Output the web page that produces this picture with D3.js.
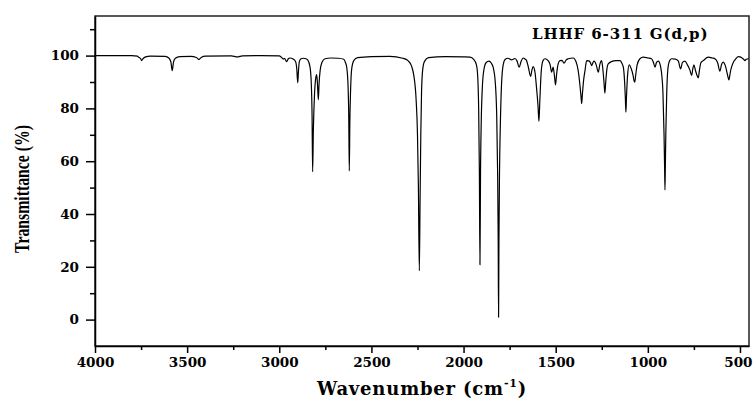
<!DOCTYPE html>
<html>
<head>
<meta charset="utf-8">
<script src="https://cdn.jsdelivr.net/npm/d3@7"></script>
<style>
  body { margin: 0; background: #fff; }
  .tick text { font-family: "DejaVu Serif", serif; font-weight: bold; font-size: 13.5px; fill: #000; }
  .axis path, .axis line { stroke: #000; stroke-width: 1.5px; }
</style>
</head>
<body>
<div id="chart"></div>
<script>
// tick values
const xMajor = [4000, 3500, 3000, 2500, 2000, 1500, 1000, 500];
const xMinor = [3750, 3250, 2750, 2250, 1750, 1250, 750];
const yMajor = [0, 20, 40, 60, 80, 100];
const yMinor = [10, 30, 50, 70, 90, 110];

const title = "LHHF 6-311 G(d,p)";

// [wavenumber (cm-1), transmittance (%)]
const spectrum = [
  [4000, 100], [3800, 100], [3770, 99.8], [3765, 99.5], [3752, 98.8], [3747, 98.1],
  [3740, 98.8], [3725, 99.5], [3700, 99.8],
  [3620, 99.7], [3598, 99.0], [3588, 97.5], [3581, 94.3], [3574, 97.5], [3564, 99.0],
  [3540, 99.6], [3480, 99.7], [3450, 99.3], [3436, 98.5], [3424, 99.3], [3400, 99.8],
  [3260, 99.9], [3228, 99.5], [3200, 99.9], [3100, 100], [3000, 99.9],
  [2990, 99.5], [2978, 98.7], [2972, 99.0], [2960, 97.7], [2950, 98.9], [2942, 99.1],
  [2925, 98.7], [2912, 97.8], [2905, 95], [2900, 89.7], [2896, 94], [2891, 97.8],
  [2882, 98.8], [2870, 99.0], [2855, 98.8], [2845, 98.3], [2833, 95.6], [2826, 89],
  [2822, 77], [2819, 56], [2815, 72], [2809, 85], [2803, 91], [2797, 92.8], [2793, 89.5],
  [2788, 83.3], [2784, 89.5], [2778, 94.5], [2768, 97.5], [2752, 98.8], [2720, 99.1],
  [2680, 99.0], [2650, 98.6], [2640, 97.2], [2634, 95.6], [2627, 89], [2623, 77],
  [2620, 56.3], [2617, 75], [2613, 87], [2607, 95.0], [2595, 98.2], [2575, 99.2],
  [2500, 99.6], [2400, 99.7], [2330, 99.0], [2300, 98.0], [2282, 96.0], [2270, 92.5],
  [2258, 84], [2250, 70], [2245, 50], [2240, 18.5], [2236, 45], [2232, 70], [2228, 86],
  [2222, 94.5], [2212, 97.8], [2190, 99.2], [2100, 99.6], [2000, 99.5], [1965, 99.4],
  [1945, 98.6], [1930, 96.5], [1924, 93], [1918, 80], [1914, 55], [1911, 20.8],
  [1908, 55], [1904, 75], [1898, 88], [1890, 94.5], [1878, 97.3], [1862, 97.9],
  [1850, 97.2], [1839, 95.5], [1828, 90], [1820, 77], [1815, 55], [1812, 30],
  [1810, 0.9], [1808, 30], [1805, 55], [1800, 75], [1794, 89], [1785, 96.5], [1775, 98.5],
  [1759, 99.0], [1740, 98.4], [1721, 98.9], [1710, 98.0], [1698, 95.6], [1688, 97.8],
  [1676, 99.1], [1665, 98.6], [1658, 98.1], [1648, 95.5], [1636, 92.1], [1629, 94.5],
  [1622, 95.8], [1612, 93.5], [1603, 87], [1596, 81], [1591, 75.1], [1586, 83],
  [1581, 91], [1577, 95.2], [1568, 98.2], [1558, 98.8], [1540, 98.0], [1530, 96.5],
  [1522, 93.7], [1514, 95.6], [1507, 92.5], [1501, 88.9], [1495, 93], [1487, 96.8],
  [1477, 98.1], [1466, 98.2], [1455, 97.1], [1443, 98.4], [1432, 98.8], [1405, 99.1],
  [1390, 97.8], [1378, 94.3], [1368, 88.5], [1362, 84], [1359, 81.8], [1355, 85.5],
  [1348, 91], [1341, 94.3], [1332, 98.1], [1320, 98.0], [1312, 97.4], [1305, 96.2],
  [1298, 97.3], [1292, 97.9], [1280, 96.5], [1269, 93.7], [1260, 96.8], [1251, 98.1],
  [1245, 95.5], [1238, 90], [1233, 85.8], [1228, 90.5], [1222, 95], [1215, 96.9],
  [1195, 97.8], [1173, 98.1], [1151, 98.1], [1140, 97], [1133, 95.6], [1126, 90],
  [1122, 84], [1119, 78.6], [1116, 84], [1110, 92.5], [1101, 96.5], [1090, 95],
  [1080, 92.5], [1075, 90.5], [1071, 89.9], [1066, 92.5], [1058, 96.5], [1043, 98.8],
  [1025, 99.4], [1000, 99.1], [980, 98.8], [970, 97.5], [961, 95.6], [953, 97.4],
  [943, 97.9], [932, 96.2], [925, 93.1], [918, 86], [912, 70], [909, 58], [907, 49.1],
  [905, 58], [902, 72], [897, 87], [889, 96.2], [880, 98.3], [871, 98.8], [850, 98.7],
  [835, 98.0], [822, 95.0], [812, 97.4], [799, 97.9], [785, 96.5], [772, 94.6],
  [762, 92.5], [756, 95], [750, 96.5], [742, 94.5], [733, 92.5], [726, 91.6], [720, 94.5],
  [712, 97.3], [699, 98.1], [672, 99.4], [650, 99.1], [636, 98.8], [622, 97.5],
  [609, 94.1], [600, 96.6], [591, 97.5], [578, 95.8], [567, 92.5], [560, 90.8],
  [553, 93.5], [545, 95.8], [535, 97.6], [527, 98.4], [509, 99.6], [490, 99.2],
  [480, 98.6], [473, 98.1], [466, 98.6], [455, 98.8], [451, 98.8]
];

// set the dimensions and margins of the graph
var margin = {top: 16, right: 4, bottom: 53, left: 95},
    width = 753 - margin.left - margin.right,
    height = 399 - margin.top - margin.bottom;

var x = d3.scaleLinear().domain([4000, 451]).range([0, width]);
var y = d3.scaleLinear().domain([-10, 115]).range([height, 0]);

var root = d3.select("#chart").append("svg")
    .attr("width", 753)
    .attr("height", 399);

var svg = root.append("g")
    .attr("transform", "translate(" + margin.left + "," + margin.top + ")");

// frame
svg.append("rect")
    .attr("width", width)
    .attr("height", height)
    .attr("fill", "none")
    .attr("stroke", "#222")
    .attr("stroke-width", 1.5);

svg.append("clipPath").attr("id", "clip")
  .append("rect").attr("width", width).attr("height", height);

// spectrum
var valueline = d3.line()
    .x(function(d) { return x(d[0]); })
    .y(function(d) { return y(d[1]); })
    .curve(d3.curveMonotoneX);

svg.append("path")
    .datum(spectrum)
    .attr("clip-path", "url(#clip)")
    .attr("fill", "none")
    .attr("stroke", "#000")
    .attr("stroke-width", 1.2)
    .attr("d", valueline);

// x axis
var xAxis = svg.append("g")
    .attr("class", "axis")
    .attr("transform", "translate(0," + height + ")")
    .call(d3.axisBottom(x).tickValues(xMajor).tickSize(7).tickSizeOuter(0)
      .tickPadding(4).tickFormat(d3.format("d")));

// last label sits at the right edge of the picture: keep it inside
xAxis.selectAll(".tick text")
    .filter(function(d) { return d === 500; })
    .attr("text-anchor", "end")
    .attr("x", width + margin.right - x(500) - 1);

svg.append("g")
    .attr("class", "axis")
    .attr("transform", "translate(0," + height + ")")
    .call(d3.axisBottom(x).tickValues(xMinor).tickSize(4).tickFormat(""))
    .select(".domain").remove();

// y axis
svg.append("g")
    .attr("class", "axis")
    .call(d3.axisLeft(y).tickValues(yMajor).tickSize(9).tickSizeOuter(0)
      .tickPadding(7).tickFormat(d3.format("d")));

svg.append("g")
    .attr("class", "axis")
    .call(d3.axisLeft(y).tickValues(yMinor).tickSize(5).tickFormat(""))
    .select(".domain").remove();

// title
root.append("text")
    .attr("x", 532)
    .attr("y", 39)
    .attr("font-family", "DejaVu Serif")
    .attr("font-weight", "bold")
    .attr("font-size", "15px")
    .attr("letter-spacing", "0.9px")
    .text(title);

// axis labels
var xl = root.append("text")
    .attr("x", margin.left + width / 2)
    .attr("y", 395)
    .attr("text-anchor", "middle")
    .attr("font-family", "DejaVu Serif")
    .attr("font-weight", "bold")
    .attr("font-size", "18px")
    .attr("letter-spacing", "0.8px");
xl.append("tspan").text("Wavenumber (cm");
xl.append("tspan").attr("font-size", "11px").attr("dy", -8).text("-1");
xl.append("tspan").attr("dy", 8).text(")");

root.append("text")
    .attr("transform", "translate(29,189) rotate(-90) scale(0.75,1)")
    .attr("text-anchor", "middle")
    .attr("font-family", "Liberation Serif")
    .attr("font-weight", "bold")
    .attr("font-size", "21px")
    .text("Transmittance (%)");
</script>
</body>
</html>
